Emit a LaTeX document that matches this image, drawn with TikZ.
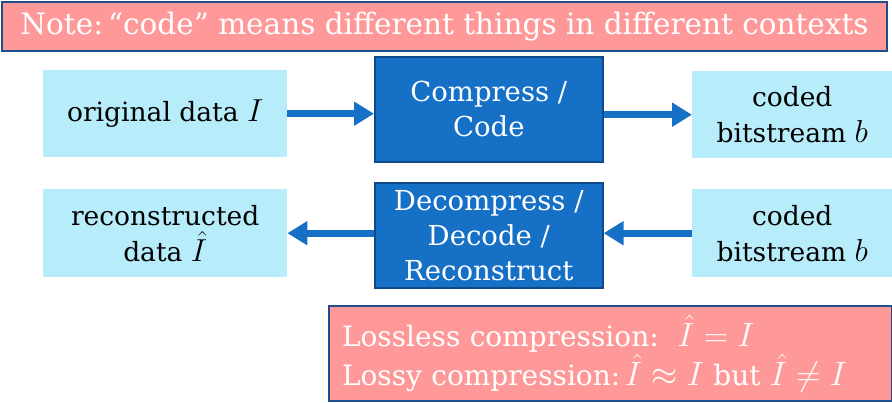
\RequirePackage{fix-cm}
\documentclass[tikz,border=0pt]{standalone}
\usepackage{fontspec}
\setmainfont{DejaVu Serif}
\usetikzlibrary{arrows.meta}
\newcommand\mth[1]{\scalebox{1.2}{$#1$}}
\definecolor{pinkfill}{RGB}{255,153,153}
\definecolor{bannerline}{RGB}{31,78,140}
\definecolor{lightcyan}{RGB}{183,236,250}
\definecolor{darkbox}{RGB}{21,112,198}
\definecolor{darkline}{RGB}{14,74,138}
\definecolor{arrowblue}{RGB}{21,112,198}
\tikzset{
  lightbox/.style={fill=lightcyan, draw=none, inner sep=0pt, align=center,
    font=\fontsize{26.5}{36}\selectfont, text=black, anchor=north west},
  darkbox/.style={fill=darkbox, draw=darkline, line width=1.6pt, inner sep=0pt, align=center,
    font=\fontsize{27.5}{35}\selectfont, text=white, anchor=north west},
  notebox/.style={fill=pinkfill, draw=bannerline, line width=2pt, inner sep=0pt,
    text=white, anchor=north west},
  flow/.style={draw=arrowblue, line width=7pt, -{Triangle[length=20pt,width=23pt]}}
}
\begin{document}
\begin{tikzpicture}[x=1pt,y=-1pt]
\useasboundingbox (0,0) rectangle (892,402);
% banner
\node[notebox, minimum width=885pt, minimum height=49pt, font=\fontsize{29.5}{32}\selectfont] (note) at (1,1)
  {Note:\,“code” means different things in different contexts};
% top row
\node[lightbox, minimum width=244pt, minimum height=87pt] (orig) at (43,70) {original data \mth{I}};
\node[darkbox, minimum width=228pt, minimum height=105pt] (comp) at (374,56) {Compress /\\Code};
\node[lightbox, minimum width=200pt, minimum height=87pt] (codedA) at (692,71) {coded\\bitstream \mth{b}};
% bottom row
\node[lightbox, minimum width=244pt, minimum height=88pt] (recon) at (43,189) {reconstructed\\data \mth{\hat{I}}};
\node[darkbox, minimum width=228pt, minimum height=105pt] (decomp) at (374,182) {Decompress /\\Decode /\\Reconstruct};
\node[lightbox, minimum width=200pt, minimum height=88pt] (codedB) at (692,189) {coded\\bitstream \mth{b}};
% arrows
\draw[flow] (orig.east) -- (orig.east -| comp.west);
\draw[flow] (comp.east |- codedA.west) -- (codedA.west);
\draw[flow] (codedB.west) -- (codedB.west -| decomp.east);
\draw[flow] (decomp.west |- recon.east) -- (recon.east);
% lossless note
\node[notebox, minimum width=563pt, minimum height=95pt, align=left, text width=537pt, inner xsep=13pt,
  font=\fontsize{28}{39}\selectfont] (loss) at (328,305)
  {Lossless compression:\ \ \mth{\hat{I} = I}\\Lossy compression:\,\mth{\hat{I} \approx I} but \mth{\hat{I} \neq I}};
\end{tikzpicture}
\end{document}
